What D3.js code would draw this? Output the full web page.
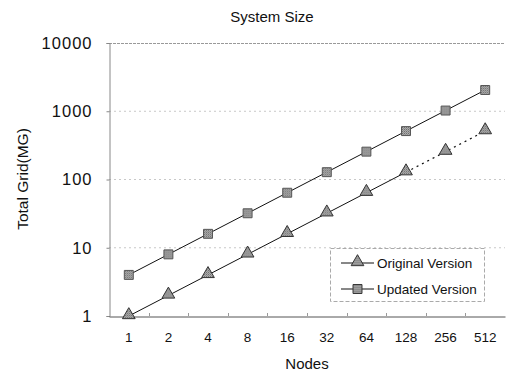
<!DOCTYPE html>
<html><head><meta charset="utf-8">
<script src="https://cdn.jsdelivr.net/npm/d3@7"></script>
<style>
body{margin:0;background:#fff;}
text{font-family:"Liberation Sans",Arial,sans-serif;fill:#111;}
</style></head>
<body><svg id="c" width="506" height="374"></svg>
<script>
const nodes = ["1","2","4","8","16","32","64","128","256","512"];
const originalVals = [1,2,4,8,16,32,64,128,256,512];
const updatedVals = [4,8,16,32,64,128,256,512,1024,2048];
const yTicks = [1,10,100,1000,10000];
const seriesNames = ["Original Version","Updated Version"];
const solidUntil = 7; // original version drawn solid up to "128", dotted after

const svg = d3.select("#c");
const m = {l:109, r:505, t:43, b:316};
const x = d3.scaleBand().domain(nodes).range([m.l, m.r]);
const y = d3.scaleLog().domain([1,10000]).range([m.b, m.t]);
const cx = d => x(d) + x.bandwidth()/2;

const defs = svg.append("defs");
const pat = defs.append("pattern").attr("id","hatch").attr("width",2).attr("height",2).attr("patternUnits","userSpaceOnUse");
pat.append("rect").attr("width",2).attr("height",2).attr("fill","#b0b0b0");
pat.append("rect").attr("width",1).attr("height",1).attr("fill","#6a6a6a");
pat.append("rect").attr("x",1).attr("y",1).attr("width",1).attr("height",1).attr("fill","#8a8a8a");

// grid lines
svg.append("g").selectAll("line").data(yTicks.slice(1,4)).join("line")
  .attr("x1",m.l).attr("x2",m.r).attr("y1",d=>y(d)).attr("y2",d=>y(d))
  .attr("stroke","#c8c8c8").attr("stroke-width",1).attr("stroke-dasharray","2,3");
svg.append("line").attr("x1",m.l).attr("x2",m.r).attr("y1",m.t+0.5).attr("y2",m.t+0.5)
  .attr("stroke","#999").attr("stroke-dasharray","3,1");

// y axis
const ya = d3.axisLeft(y).tickValues(yTicks).tickFormat(d3.format("d")).tickSize(3).tickPadding(14);
const gy = svg.append("g").attr("transform",`translate(${m.l+0.5},0)`).call(ya);
gy.select(".domain").attr("stroke","#888");
gy.selectAll(".tick line").attr("stroke","#888");
gy.selectAll("text").attr("font-size",16.5).attr("letter-spacing","1px").attr("fill","#111");

// x axis
const xa = d3.axisBottom(x).tickSize(0).tickPadding(16);
const gx = svg.append("g").attr("transform",`translate(0,${m.b+0.5})`).call(xa);
gx.select(".domain").attr("stroke","#555");
gx.selectAll("text").attr("font-size",13.5).attr("fill","#111");
svg.append("g").selectAll("line").data(nodes.slice(1)).join("line")
  .attr("x1",d=>Math.round(x(d))+0.5).attr("x2",d=>Math.round(x(d))+0.5)
  .attr("y1",m.b-3).attr("y2",m.b).attr("stroke","#999");

// lines
const line = d3.line().x(d=>cx(d.n)).y(d=>y(d.v));
const orig = nodes.map((n,i)=>({n, v:originalVals[i]}));
const upd = nodes.map((n,i)=>({n, v:updatedVals[i]}));
svg.append("path").attr("d",line(upd)).attr("fill","none").attr("stroke","#111").attr("stroke-width",1);
svg.append("path").attr("d",line(orig.slice(0,solidUntil+1))).attr("fill","none").attr("stroke","#111").attr("stroke-width",1);
svg.append("path").attr("d",line(orig.slice(solidUntil))).attr("fill","none").attr("stroke","#111").attr("stroke-width",1.2).attr("stroke-dasharray","2,4");

const tri = d3.symbol().type(d3.symbolTriangle).size(70);
const sq = d3.symbol().type(d3.symbolSquare).size(80);
svg.append("g").selectAll("path").data(upd).join("path")
  .attr("d",sq).attr("transform",d=>`translate(${cx(d.n)},${y(d.v)})`)
  .attr("fill","url(#hatch)").attr("stroke","#555").attr("stroke-width",1);
svg.append("g").selectAll("path").data(orig).join("path")
  .attr("d",tri).attr("transform",d=>`translate(${cx(d.n)},${y(d.v)-1})`)
  .attr("fill","url(#hatch)").attr("stroke","#333").attr("stroke-width",1);

// legend
const lg = svg.append("g").attr("transform","translate(330,248)");
lg.append("rect").attr("x",0.5).attr("y",0.5).attr("width",154).attr("height",53)
  .attr("fill","#fff").attr("stroke","#aaa").attr("stroke-dasharray","4,2");
seriesNames.forEach((nm,i)=>{
  const yy = 15 + i*26;
  lg.append("line").attr("x1",11).attr("x2",44).attr("y1",yy).attr("y2",yy).attr("stroke","#111");
  lg.append("path").attr("d", i===0?tri:sq).attr("transform",`translate(27.5,${yy-(i===0?1:0)})`)
    .attr("fill","url(#hatch)").attr("stroke","#333");
  lg.append("text").attr("x",47).attr("y",yy+5).attr("font-size",13.5).text(nm);
});

// titles
svg.append("text").attr("x",272).attr("y",22).attr("text-anchor","middle").attr("font-size",15).text("System Size");
svg.append("text").attr("x",307).attr("y",369).attr("text-anchor","middle").attr("font-size",15).text("Nodes");
svg.append("text").attr("transform","translate(28,179) rotate(-90)").attr("text-anchor","middle").attr("font-size",15.5).text("Total Grid(MG)");
</script></body></html>
